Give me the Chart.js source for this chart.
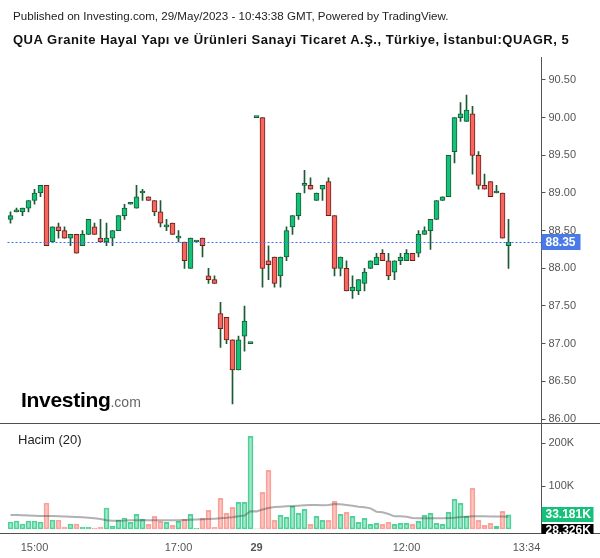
<!DOCTYPE html>
<html><head><meta charset="utf-8">
<script src="https://cdn.jsdelivr.net/npm/chart.js@4.4.0/dist/chart.umd.min.js"></script>
<style>
html,body{margin:0;padding:0;background:#fff;}
#wrap{position:relative;width:600px;height:558px;overflow:hidden;font-family:"Liberation Sans",Arial,sans-serif;}
#c1{position:absolute;left:0;top:0;}
#c2{position:absolute;left:0;top:424px;}
.t1{position:absolute;left:13px;top:10px;font-size:11.6px;line-height:12px;color:#222;white-space:nowrap;}
.t2{position:absolute;left:13px;top:33px;font-size:13px;line-height:13px;font-weight:bold;color:#111;white-space:nowrap;letter-spacing:0.5px;}
.hac{position:absolute;left:18px;top:433px;font-size:13px;line-height:13px;color:#222;white-space:nowrap;}
.logo{position:absolute;left:21px;top:389px;font-size:21px;line-height:21px;font-weight:bold;color:#000;white-space:nowrap;letter-spacing:-0.3px;}
.logo span{font-size:14px;font-weight:normal;color:#666;letter-spacing:0;}
</style></head>
<body><div id="wrap">
<canvas id="c1" width="600" height="424"></canvas>
<canvas id="c2" width="600" height="134"></canvas>
<div class="t1">Published on Investing.com, 29/May/2023 - 10:43:38 GMT, Powered by TradingView.</div>
<div class="t2">QUA Granite Hayal Yapı ve Ürünleri Sanayi Ticaret A.Ş., Türkiye, İstanbul:QUAGR, 5</div>
<div class="logo">Investing<span>.com</span></div>
<div class="hac">Hacim (20)</div>
</div>
<script>
// ---- DATA ----
const opens  = [88.65,88.75,88.75,88.80,88.90,89.00,89.10,88.35,88.55,88.50,88.40,88.45,88.30,88.45,88.55,88.40,88.35,88.40,88.50,88.70,88.85,88.80,89.00,88.95,88.90,88.75,88.55,88.60,88.40,88.35,88.00,88.35,88.40,87.90,87.85,87.40,87.35,87.05,86.65,87.10,87.00,
                90.00,90.00,88.10,88.15,87.90,88.15,88.55,88.70,89.10,89.10,88.90,89.05,89.15,88.70,88.00,88.00,87.70,87.70,87.80,88.00,88.05,88.20,88.10,87.95,88.10,88.10,88.20,88.20,88.45,88.50,88.65,88.90,88.95,89.55,90.00,89.95,90.05,89.50,89.10,89.15,89.00,89.00,88.30];
const highs  = [88.75,88.80,88.80,88.90,89.05,89.10,89.10,88.55,88.60,88.55,88.45,88.45,88.50,88.65,88.60,88.65,88.60,88.50,88.70,88.85,88.85,89.10,89.05,88.95,88.90,88.90,88.65,88.60,88.50,88.35,88.40,88.35,88.40,88.00,87.90,87.55,87.35,87.05,87.10,87.50,87.00,
                90.00,90.00,88.30,88.15,88.15,88.55,88.70,89.00,89.30,89.20,89.00,89.10,89.20,88.70,88.15,88.10,87.90,87.85,88.00,88.10,88.20,88.25,88.20,88.10,88.20,88.25,88.20,88.50,88.55,88.65,88.90,88.95,89.50,90.00,90.20,90.30,90.15,89.55,89.25,89.15,89.10,89.00,88.65];
const lows   = [88.60,88.75,88.70,88.75,88.85,88.95,88.30,88.35,88.40,88.40,88.30,88.20,88.30,88.45,88.45,88.35,88.30,88.30,88.50,88.65,88.85,88.80,88.90,88.90,88.70,88.55,88.50,88.45,88.35,88.00,88.00,88.35,88.15,87.80,87.80,86.95,87.00,86.20,86.65,86.90,87.00,
                90.00,87.75,87.85,87.75,87.75,88.10,88.45,88.65,89.00,89.05,88.90,88.90,88.70,87.90,87.90,87.70,87.60,87.65,87.70,88.00,88.05,88.10,87.85,87.85,88.05,88.10,88.10,88.15,88.45,88.25,88.65,88.90,88.95,89.40,89.95,89.95,89.25,89.05,89.05,88.95,89.00,88.40,88.00];
const closes = [88.70,88.75,88.80,88.90,89.00,89.10,88.30,88.55,88.50,88.40,88.45,88.20,88.45,88.65,88.45,88.35,88.40,88.50,88.70,88.80,88.85,88.95,89.00,88.90,88.75,88.60,88.55,88.45,88.40,88.10,88.40,88.35,88.30,87.85,87.80,87.20,87.05,86.65,87.05,87.30,87.00,
                90.00,88.00,88.05,87.80,88.15,88.50,88.70,89.00,89.10,89.05,89.00,89.10,88.70,88.00,88.15,87.70,87.75,87.85,87.95,88.10,88.15,88.10,87.90,88.10,88.15,88.20,88.10,88.45,88.50,88.65,88.90,88.95,89.50,90.00,90.05,90.10,89.50,89.10,89.05,88.95,89.00,88.40,88.35];
// volume in thousands
const volumes = [16.3,18.6,11.6,18.6,18.6,16.3,60.5,20.9,20.9,4.7,11.6,11.6,4.7,4.7,2.3,4.7,48.8,7.0,20.9,25.6,15.5,34.1,22.5,10.9,29.5,17.8,15.5,8.5,17.8,22.5,34.1,1.5,24.8,43.4,3.9,71.3,36.4,50.4,62.0,62.0,215.5,
                 0.5,85.3,136.4,20.2,31.8,27.1,52.7,36.4,45.7,10.9,29.5,20.2,20.2,64.3,34.1,38.8,29.5,15.5,24.8,10.9,13.2,10.9,15.5,10.9,13.2,13.2,10.9,17.8,31.8,36.4,13.2,10.9,38.8,69.0,59.7,29.5,94.6,20.2,8.5,13.2,6.2,41.1,33.181];
// 20-period volume average (thousands)
const volMA = [32.6,32.4,32.0,31.5,31.0,30.5,30.5,30.2,29.8,29.2,28.6,28.0,27.2,26.2,25.0,23.0,20.5,19.4,19.4,19.6,20.2,20.5,20.3,20.2,20.2,20.2,20.2,20.2,20.5,21.0,21.5,22.0,22.5,23.2,24.0,25.0,26.0,27.5,29.5,31.5,41.5,
               41.0,45.5,48.8,51.0,52.0,52.7,53.5,54.3,55.0,55.8,55.8,55.0,55.8,58.1,57.4,55.8,54.3,52.0,50.4,48.0,40.3,38.8,34.9,29.5,29.5,28.7,25.6,24.8,24.8,24.8,24.8,24.8,25.6,26.4,27.9,28.7,29.5,29.5,29.5,29.2,29.0,28.8,28.326];
const priceTicks = [86.00,86.50,87.00,87.50,88.00,88.50,89.00,89.50,90.00,90.50];
const volTicks = [100,200];
const xTickIdx  = [4, 28, 41, 66, 86];
const xTickText = ['15:00','17:00','29','12:00','13:34'];
const lastPrice = 88.35, lastVolText = '33.181K', lastMAText = '28.326K';
const padSlots = 5;

// ---- category labels (5-minute bars) ----
function hm(h,m){return String(h).padStart(2,'0')+':'+String(m).padStart(2,'0');}
const cats=[];
for(let t=14*60+40;t<=18*60;t+=5) cats.push(hm(Math.floor(t/60),t%60));
for(let t=9*60+55;cats.length<opens.length+padSlots;t+=5) cats.push(hm(Math.floor(t/60),t%60));

const FONT='"Liberation Sans", Arial, sans-serif';
const UP='#12c27a', UPB='#1b5a32', DN='#f7675e', DNB='#6b1c1c', WICK='#1b5a32';
const isUp = opens.map((o,i)=>closes[i]>=o);
function noPad(s){s.paddingTop=0;s.paddingBottom=0;}

const priceLinePlugin={id:'pl',afterDraw(c){
  const {ctx,chartArea:a,scales:{y}}=c; const py=y.getPixelForValue(lastPrice);
  ctx.save();
  ctx.strokeStyle='#505050';ctx.lineWidth=1;ctx.beginPath();ctx.moveTo(0,a.bottom+0.5);ctx.lineTo(600,a.bottom+0.5);ctx.stroke();
  ctx.strokeStyle='#3a6df0';ctx.setLineDash([2,2]);ctx.beginPath();ctx.moveTo(a.left,Math.round(py)+0.5);ctx.lineTo(a.right,Math.round(py)+0.5);ctx.stroke();
  ctx.setLineDash([]);
  ctx.fillStyle='#4a7ae8';ctx.fillRect(a.right,Math.round(py)-8,39,16);
  ctx.fillStyle='#fff';ctx.font='bold 12px '+FONT;ctx.textBaseline='middle';ctx.textAlign='left';
  ctx.fillText(lastPrice.toFixed(2),a.right+4,Math.round(py)+0.5);
  ctx.restore();
}};

new Chart(document.getElementById('c1'),{
  type:'bar',
  data:{labels:cats,datasets:[
    {data:opens.map((o,i)=>[lows[i],highs[i]]),backgroundColor:WICK,borderWidth:0,barThickness:1,grouped:false,order:2,minBarLength:1},
    {data:opens.map((o,i)=>[o,closes[i]]),backgroundColor:isUp.map(u=>u?UP:DN),borderColor:isUp.map(u=>u?UPB:DNB),borderWidth:1,borderSkipped:false,barThickness:5,grouped:false,order:1,minBarLength:2}
  ]},
  options:{responsive:false,animation:false,events:[],
    layout:{padding:{left:7.5,top:57,right:0,bottom:1}},
    plugins:{legend:{display:false},tooltip:{enabled:false}},
    scales:{
      x:{display:false},
      y:{position:'right',min:85.947,max:90.805,
        afterFit(s){s.width=58.5;noPad(s);},
        afterBuildTicks(s){s.ticks=priceTicks.map(v=>({value:v}));},
        grid:{drawOnChartArea:false,drawTicks:true,tickLength:4,color:'#555',tickColor:'#555'},
        border:{display:true,color:'#555'},
        ticks:{padding:3,color:'#555',font:{size:11,family:FONT},callback:v=>Number(v).toFixed(2)}}
    }},
  plugins:[priceLinePlugin]
});

const volPlugin={id:'vl',afterDraw(c){
  const {ctx,chartArea:a,scales:{y}}=c;
  ctx.save();
  ctx.strokeStyle='#505050';ctx.lineWidth=1;ctx.beginPath();ctx.moveTo(0,a.bottom+0.5);ctx.lineTo(600,a.bottom+0.5);ctx.stroke();
  ctx.font='bold 12px '+FONT;ctx.textBaseline='middle';ctx.textAlign='left';
  ctx.beginPath();ctx.rect(a.right,0,60,a.bottom+1);ctx.clip();
  const vy=y.getPixelForValue(volumes[volumes.length-1]);
  ctx.fillStyle='#16c07b';ctx.fillRect(a.right,Math.round(vy)-8,52,15);
  ctx.fillStyle='#fff';ctx.fillText(lastVolText,a.right+4,Math.round(vy));
  ctx.fillStyle='#000';ctx.fillRect(a.right,Math.round(vy)+9,52,15);
  ctx.fillStyle='#fff';ctx.fillText(lastMAText,a.right+4,Math.round(vy)+16);
  ctx.restore();
}};

new Chart(document.getElementById('c2'),{
  data:{labels:cats,datasets:[
    {type:'line',data:volMA,borderColor:'rgba(70,70,70,0.42)',borderWidth:2,pointRadius:0,tension:0,order:1},
    {type:'bar',data:volumes,backgroundColor:isUp.map(u=>u?'rgba(40,200,130,0.42)':'rgba(250,110,100,0.38)'),borderColor:isUp.map(u=>u?'rgba(40,200,130,0.8)':'rgba(245,110,100,0.6)'),borderWidth:1,borderSkipped:false,barThickness:5,grouped:false,order:2}
  ]},
  options:{responsive:false,animation:false,events:[],
    layout:{padding:{left:7.5,top:0,right:0,bottom:0}},
    plugins:{legend:{display:false},tooltip:{enabled:false}},
    scales:{
      x:{type:'category',offset:true,
        afterFit(s){s.height=25;},
        afterBuildTicks(s){s.ticks=xTickIdx.map(v=>({value:v}));},
        grid:{display:false,drawTicks:false,tickLength:0},border:{display:false},
        ticks:{autoSkip:false,maxRotation:0,padding:8,color:'#555',
          font:(ctx)=>({size:11,family:FONT,weight:(ctx.tick&&ctx.tick.value===41)?'bold':'normal'}),
          callback:(v)=>{const k=xTickIdx.indexOf(v);return k>=0?xTickText[k]:'';}}},
      y:{position:'right',min:-9.3,max:244.2,
        afterFit(s){s.width=58.5;noPad(s);},
        afterBuildTicks(s){s.ticks=volTicks.map(v=>({value:v}));},
        grid:{drawOnChartArea:false,drawTicks:true,tickLength:4,color:'#555',tickColor:'#555'},
        border:{display:true,color:'#555'},
        ticks:{padding:3,color:'#555',font:{size:11,family:FONT},callback:v=>v+'K'}}
    }},
  plugins:[volPlugin]
});
</script>
</body></html>
